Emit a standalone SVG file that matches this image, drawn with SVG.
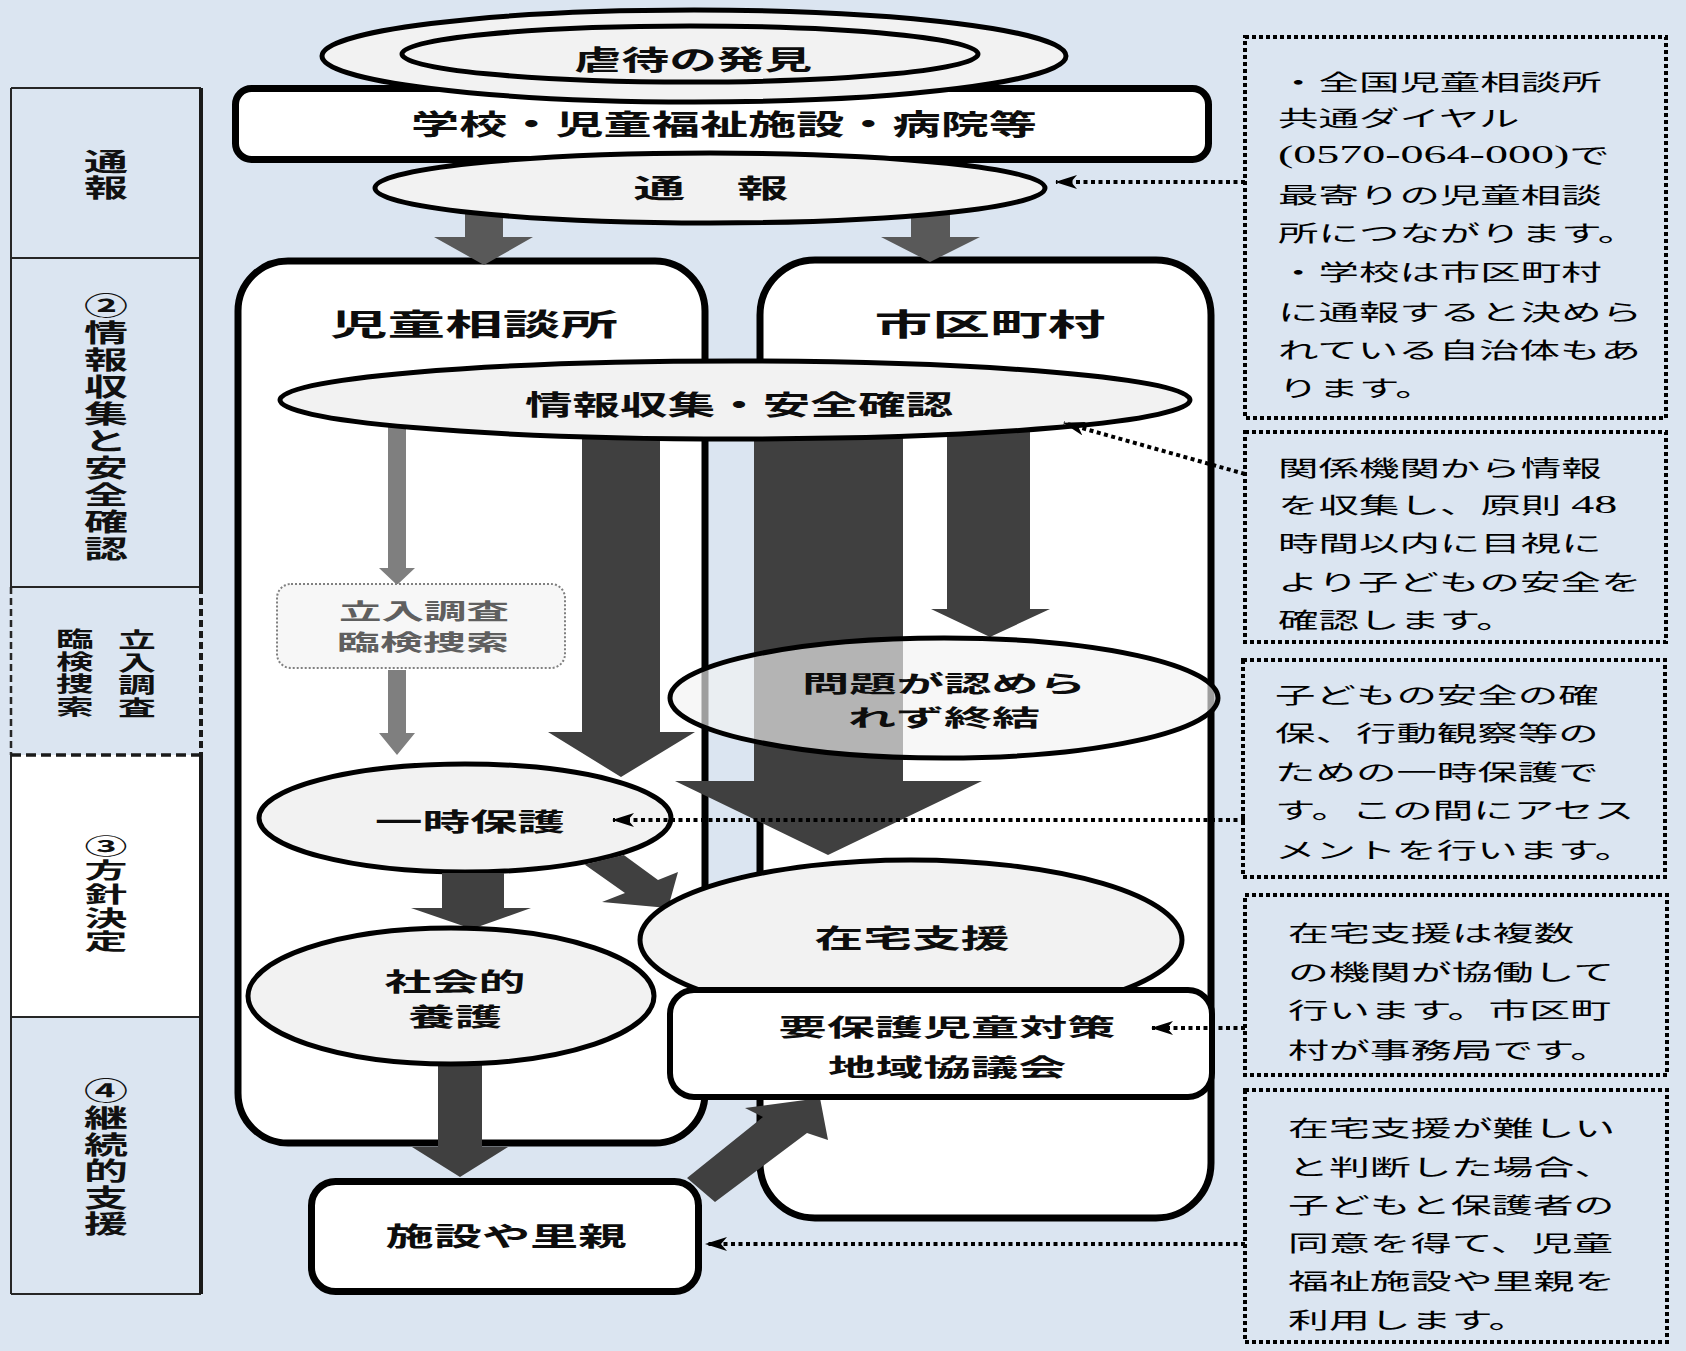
<svg xmlns="http://www.w3.org/2000/svg" width="1686" height="1351" viewBox="0 0 1686 1351">
<defs>
<style>
.bg{fill:#dbe5f1}
.rule{stroke:#262626;stroke-width:2;fill:none}
.rule-r{stroke:#1a1a1a;stroke-width:4;fill:none}
.rule-d{stroke:#262626;stroke-width:2.5;stroke-dasharray:7 4;fill:none}
.stage{font-family:"Noto Sans CJK JP","Noto Sans CJK SC",sans-serif;font-weight:700;fill:#111;writing-mode:vertical-rl;text-orientation:upright}
.frame{fill:#fff;stroke:#000;stroke-width:7}
.oval{fill:#f2f2f2;stroke:#000;stroke-width:5}
.box{fill:#fff;stroke:#000;stroke-width:6}
.lbl{font-family:"Noto Sans CJK JP","Noto Sans CJK SC",sans-serif;font-weight:700;fill:#0d0d0d;text-anchor:middle}
.arr-top{fill:#595959}
.arr-thin{fill:#7f7f7f}
.arr{fill:#404040}
.note-frame{fill:none;stroke:#000;stroke-width:4;stroke-dasharray:4 3}
.note{font-family:"Liberation Serif","Noto Sans CJK JP",serif;font-weight:400;font-size:22px;fill:#000}
.num{font-size:25px}
.leader{fill:none;stroke:#000;stroke-width:4;stroke-dasharray:4 3.5;marker-end:url(#stealth)}
</style>
<marker id="stealth" viewBox="0 0 22 14" refX="21" refY="7" markerWidth="22" markerHeight="14" markerUnits="userSpaceOnUse" orient="auto">
<path d="M0,0 L22,7 L0,14 L6,7 Z" fill="#000"/>
</marker>
</defs>

<rect class="bg" x="0" y="0" width="1686" height="1351"/>

<!-- stage column on the left -->
<g id="stage-column">
<rect x="11" y="88" width="190" height="1206" class="bg"/>
<rect x="11" y="755" width="190" height="262" fill="#fff"/>
<path class="rule" d="M11,88 H201 M11,258 H201 M11,587 H201 M11,1017 H201 M11,1294 H201 M11,88 V587 M11,755 V1294"/>
<path class="rule-d" d="M11,587 V755"/>
<path class="rule-r" d="M201,88 V587 M201,755 V1294"/>
<path d="M201,587 V755" fill="none" stroke="#1a1a1a" stroke-width="4" stroke-dasharray="7 4"/>
<path d="M11,755 H201" fill="none" stroke="#1a1a1a" stroke-width="3.5" stroke-dasharray="10 5"/>
<g transform="translate(106 0) scale(1.76 1)">
<text class="stage" x="0" y="149.5" font-size="25" letter-spacing="1">通報</text>
<text class="stage" x="0" y="293.5" font-size="25" letter-spacing="1.9">②情報収集と安全確認</text>
<text class="stage" x="0" y="1078.5" font-size="25" letter-spacing="1.6">④継続的支援</text>
</g>
<g transform="translate(106 0) scale(1.95 1)">
<text class="stage" x="0" y="835" font-size="22" letter-spacing="1.75">③方針決定</text>
</g>
<g transform="translate(137 0) scale(1.8 1)">
<text class="stage" x="0" y="628.5" font-size="21" letter-spacing="1.7">立入調査</text>
</g>
<g transform="translate(75 0) scale(1.8 1)">
<text class="stage" x="0" y="627.5" font-size="21" letter-spacing="1.7">臨検捜索</text>
</g>
</g>

<!-- the two agency frames -->
<g id="node-jidou-soudanjo">
<rect class="frame" x="238" y="261" width="467" height="882" rx="50"/>
<text class="lbl" x="474" y="335" font-size="30" textLength="288" lengthAdjust="spacingAndGlyphs">児童相談所</text>
</g>
<g id="node-shikuchouson">
<rect class="frame" x="760" y="260" width="451" height="958" rx="55"/>
<text class="lbl" x="990" y="335" font-size="30" textLength="231" lengthAdjust="spacingAndGlyphs">市区町村</text>
</g>

<g id="node-reporters">
<rect x="235.5" y="88.5" width="973" height="71" rx="16" fill="#fff" stroke="#000" stroke-width="7"/>
<text class="lbl" x="724" y="135" font-size="28" textLength="626" lengthAdjust="spacingAndGlyphs">学校・児童福祉施設・病院等</text>
</g>

<g id="node-discovery">
<ellipse class="oval" cx="694" cy="56" rx="372" ry="46"/>
<ellipse class="oval" cx="690" cy="54" rx="288" ry="28"/>
<text class="lbl" x="693" y="70" font-size="27" textLength="238" lengthAdjust="spacingAndGlyphs">虐待の発見</text>
</g>

<g id="node-ichiji-hogo">
<ellipse class="oval" cx="465" cy="818" rx="206" ry="54"/>
<text class="lbl" x="470" y="831" font-size="25" textLength="190" lengthAdjust="spacingAndGlyphs">一時保護</text>
</g>

<!-- block arrows -->
<g id="connectors">
<polygon class="arr-top" points="465,205 503,205 503,237 533,237 484,265 434,237 465,237"/>
<polygon class="arr-top" points="911,205 950,205 950,237 980,237 930,262 881,237 911,237"/>
<polygon class="arr-thin" points="388,420 406,420 406,568 415,568 397,585 379,568 388,568"/>
<polygon class="arr-thin" points="388,670 406,670 406,733 415,733 397,755 379,733 388,733"/>
<polygon class="arr" points="582,425 660,425 660,732 695,732 621,777 548,732 582,732"/>
<polygon class="arr" points="754,425 903,425 903,781 982,781 828,855 675,781 754,781"/>
<polygon class="arr" points="947,425 1030,425 1030,609 1050,609 990,637 931,609 947,609"/>
<polygon class="arr" points="623.8,855.1 658,880 678,872 668,908 602,902 625,893 584.6,864.4"/>
<polygon class="arr" points="442,873 504,873 504,908 531,908 472,929 411,908 442,908"/>
<polygon class="arr" points="438,1055 482,1055 482,1147 508,1147 460,1177 412,1147 438,1147"/>
<polygon class="arr" points="687,1178 763,1117 745,1108 820,1098 828,1140 807,1133 715,1202"/>
</g>

<g id="node-report">
<ellipse class="oval" cx="710" cy="188" rx="335" ry="35"/>
<text class="lbl" x="711" y="198" font-size="26" textLength="155" lengthAdjust="spacingAndGlyphs">通　報</text>
</g>

<g id="node-info-safety">
<ellipse class="oval" cx="735" cy="400" rx="455" ry="39"/>
<text class="lbl" x="739" y="415" font-size="27" textLength="428" lengthAdjust="spacingAndGlyphs">情報収集・安全確認</text>
</g>

<g id="node-tachiiri">
<rect x="277" y="584" width="288" height="84" rx="14" fill="#f7f7f7" stroke="#808080" stroke-width="2" stroke-dasharray="2 2"/>
<text class="lbl" x="424" y="619" font-size="22" style="fill:#5f5f5f" textLength="170" lengthAdjust="spacingAndGlyphs">立入調査</text>
<text class="lbl" x="423" y="650" font-size="22" style="fill:#5f5f5f" textLength="172" lengthAdjust="spacingAndGlyphs">臨検捜索</text>
</g>

<g id="node-closed">
<ellipse cx="944" cy="698" rx="274" ry="60" fill="#f2f2f2" fill-opacity="0.65" stroke="#000" stroke-width="5"/>
<text class="lbl" x="944" y="692" font-size="23" textLength="284" lengthAdjust="spacingAndGlyphs">問題が認めら</text>
<text class="lbl" x="944" y="726" font-size="23" textLength="192" lengthAdjust="spacingAndGlyphs">れず終結</text>
</g>

<g id="node-zaitaku">
<ellipse class="oval" cx="911" cy="940" rx="271" ry="80"/>
<text class="lbl" x="912" y="948" font-size="26" textLength="195" lengthAdjust="spacingAndGlyphs">在宅支援</text>
</g>

<g id="node-shakaiteki">
<ellipse class="oval" cx="451" cy="996" rx="203" ry="68"/>
<text class="lbl" x="455" y="991" font-size="25" textLength="141" lengthAdjust="spacingAndGlyphs">社会的</text>
<text class="lbl" x="455" y="1026" font-size="25" textLength="94" lengthAdjust="spacingAndGlyphs">養護</text>
</g>

<g id="node-youhogo">
<rect class="box" x="670" y="990" width="542" height="107" rx="24"/>
<text class="lbl" x="947" y="1036" font-size="24" textLength="337" lengthAdjust="spacingAndGlyphs">要保護児童対策</text>
<text class="lbl" x="947" y="1076" font-size="24" textLength="238" lengthAdjust="spacingAndGlyphs">地域協議会</text>
</g>

<g id="node-shisetsu">
<rect x="311.5" y="1181.5" width="387" height="110" rx="24" fill="#fff" stroke="#000" stroke-width="7"/>
<text class="lbl" x="506" y="1246" font-size="26" textLength="241" lengthAdjust="spacingAndGlyphs">施設や里親</text>
</g>

<!-- explanatory notes on the right -->
<g id="note-dial">
<rect class="note-frame" x="1245" y="37" width="421" height="381"/>
<text class="note" transform="translate(1278 0) scale(1.84 1)"><tspan x="0" y="90">・全国児童相談所</tspan><tspan x="0" y="126">共通ダイヤル</tspan><tspan x="0" y="163" class="num">(0570-064-000)</tspan><tspan>で</tspan><tspan x="0" y="203">最寄りの児童相談</tspan><tspan x="0" y="241">所につながります。</tspan><tspan x="0" y="280">・学校は市区町村</tspan><tspan x="0" y="320">に通報すると決めら</tspan><tspan x="0" y="358">れている自治体もあ</tspan><tspan x="0" y="396">ります。</tspan></text>
</g>
<g id="note-48h">
<rect class="note-frame" x="1245" y="432" width="421" height="210"/>
<text class="note" transform="translate(1278 0) scale(1.84 1)"><tspan x="0" y="476">関係機関から情報</tspan><tspan x="0" y="513">を収集し、原則 </tspan><tspan class="num">48</tspan><tspan x="0" y="551">時間以内に目視に</tspan><tspan x="0" y="590">より子どもの安全を</tspan><tspan x="0" y="628">確認します。</tspan></text>
</g>
<g id="note-ichiji">
<rect class="note-frame" x="1243" y="660" width="422" height="217"/>
<text class="note" transform="translate(1275 0) scale(1.84 1)"><tspan x="0" y="703">子どもの安全の確</tspan><tspan x="0" y="741">保、行動観察等の</tspan><tspan x="0" y="780">ための一時保護で</tspan><tspan x="0" y="818">す。この間にアセス</tspan><tspan x="0" y="858">メントを行います。</tspan></text>
</g>
<g id="note-zaitaku">
<rect class="note-frame" x="1245" y="895" width="422" height="180"/>
<text class="note" transform="translate(1288 0) scale(1.86 1)"><tspan x="0" y="941">在宅支援は複数</tspan><tspan x="0" y="980">の機関が協働して</tspan><tspan x="0" y="1018">行います。市区町</tspan><tspan x="0" y="1058">村が事務局です。</tspan></text>
</g>
<g id="note-shisetsu">
<rect class="note-frame" x="1245" y="1090" width="422" height="252"/>
<text class="note" transform="translate(1288 0) scale(1.86 1)"><tspan x="0" y="1136">在宅支援が難しい</tspan><tspan x="0" y="1175">と判断した場合、</tspan><tspan x="0" y="1213">子どもと保護者の</tspan><tspan x="0" y="1251">同意を得て、児童</tspan><tspan x="0" y="1289">福祉施設や里親を</tspan><tspan x="0" y="1328">利用します。</tspan></text>
</g>

<!-- dotted leaders from the notes -->
<g id="callouts">
<path class="leader" d="M1245,182 H1056"/>
<path class="leader" d="M1245,474 L1064,423"/>
<path class="leader" d="M1245,820 H613"/>
<path class="leader" d="M1245,1028 H1152"/>
<path class="leader" d="M1245,1244 H706"/>
</g>
</svg>
